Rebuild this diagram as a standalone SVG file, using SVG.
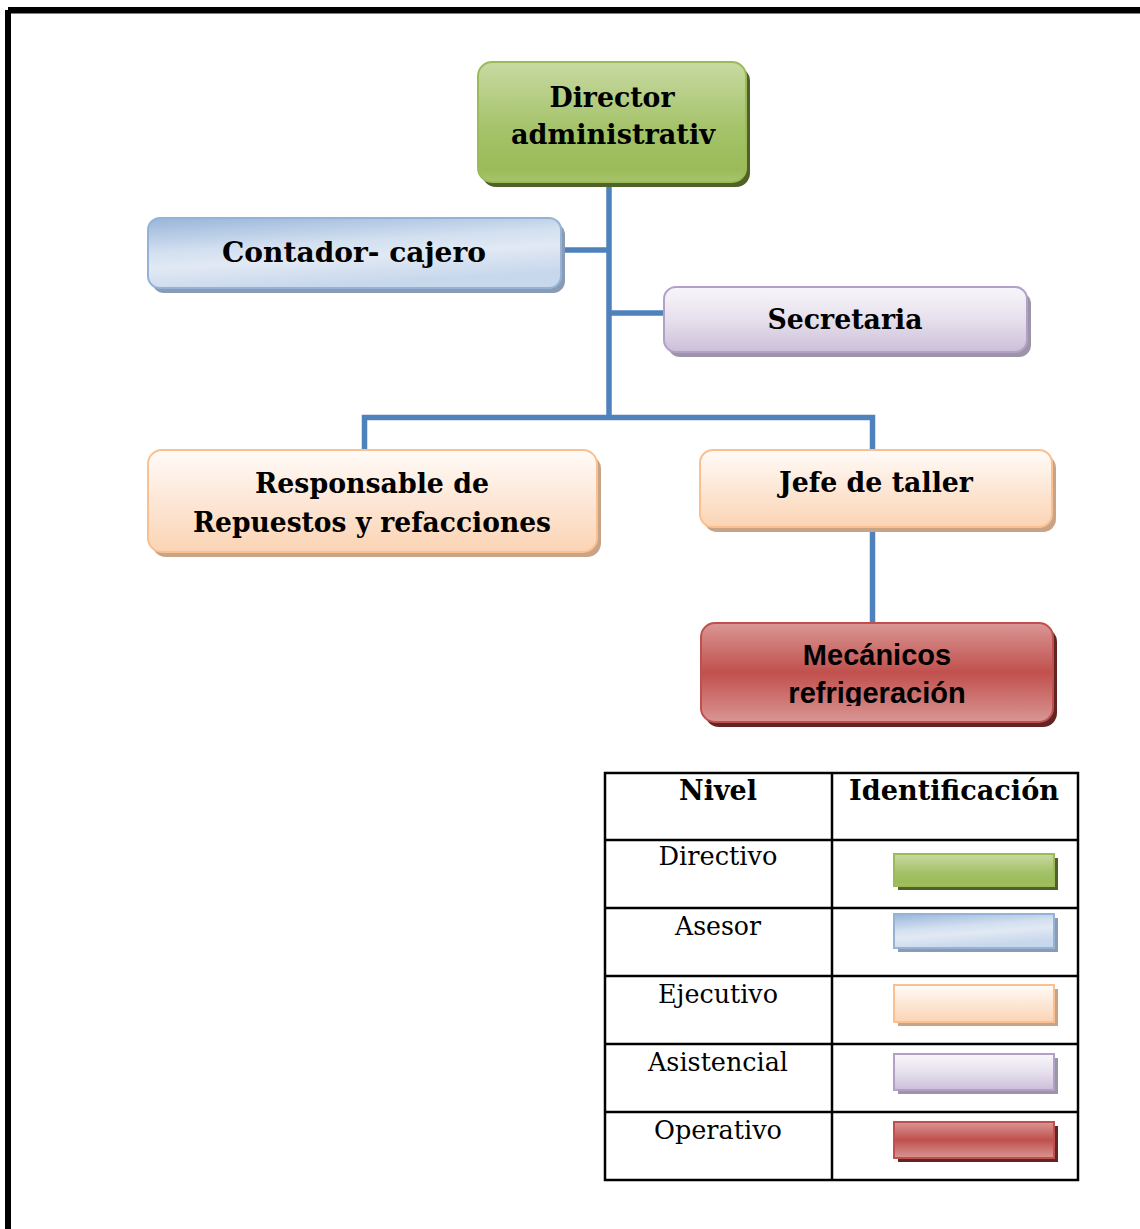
<svg xmlns="http://www.w3.org/2000/svg" width="1140" height="1229" viewBox="0 0 1140 1229">
  <defs>
    <linearGradient id="gGreen" x1="0" y1="0" x2="0" y2="1">
      <stop offset="0" stop-color="#c8daa2"/>
      <stop offset="0.55" stop-color="#a5c36a"/>
      <stop offset="0.9" stop-color="#9bbb59"/>
      <stop offset="1" stop-color="#a8c46e"/>
    </linearGradient>
    <linearGradient id="gBlue" x1="0" y1="0" x2="0.35" y2="1">
      <stop offset="0" stop-color="#98b5da"/>
      <stop offset="0.45" stop-color="#d3e0f0"/>
      <stop offset="0.65" stop-color="#e1e9f4"/>
      <stop offset="1" stop-color="#c7d7ec"/>
    </linearGradient>
    <linearGradient id="gPurple" x1="0" y1="0" x2="0" y2="1">
      <stop offset="0" stop-color="#f8f6fa"/>
      <stop offset="0.5" stop-color="#e6e0ec"/>
      <stop offset="1" stop-color="#cbbfd9"/>
    </linearGradient>
    <linearGradient id="gPeach" x1="0" y1="0" x2="0" y2="1">
      <stop offset="0" stop-color="#fffbf8"/>
      <stop offset="0.5" stop-color="#fde7d6"/>
      <stop offset="1" stop-color="#fbd4b4"/>
    </linearGradient>
    <linearGradient id="gRed" x1="0" y1="0" x2="0" y2="1">
      <stop offset="0" stop-color="#da9795"/>
      <stop offset="0.5" stop-color="#c0504d"/>
      <stop offset="1" stop-color="#d99694"/>
    </linearGradient>
    <clipPath id="clipMec">
      <rect x="701" y="623" width="352" height="83"/>
    </clipPath>
  </defs>
  <style>
    .t { font-family: "DejaVu Serif", "Liberation Serif", serif; font-weight: bold; font-size: 27px; fill: #000; text-anchor: middle; }
    .tr { font-family: "DejaVu Serif", "Liberation Serif", serif; font-size: 26px; fill: #000; text-anchor: middle; }
    .ts { font-family: "Liberation Sans", Arial, sans-serif; font-weight: bold; font-size: 29px; fill: #000; text-anchor: middle; }
    .conn { stroke: #4f81bd; stroke-width: 5.5; fill: none; stroke-linejoin: miter; }
    .grid { stroke: #000; stroke-width: 2.5; fill: none; }
    .green { fill: url(#gGreen); stroke: #9bbb59; stroke-width: 2; }
    .blue { fill: url(#gBlue); stroke: #95b3d7; stroke-width: 2; }
    .purple { fill: url(#gPurple); stroke: #b2a1c7; stroke-width: 2; }
    .peach { fill: url(#gPeach); stroke: #fac090; stroke-width: 2; }
    .red { fill: url(#gRed); stroke: #c0504d; stroke-width: 2; }
  </style>

  <!-- page frame -->
  <rect x="8" y="7" width="1132" height="6.5" fill="#000"/>
  <rect x="5" y="10" width="6" height="1219" fill="#000"/>

  <!-- connectors -->
  <g id="connectors">
    <path class="conn" d="M609,182 V417"/>
    <path class="conn" d="M561,250 H609"/>
    <path class="conn" d="M609,313 H664"/>
    <path class="conn" d="M364.5,450 V417.5 H872.5 V450"/>
    <path class="conn" d="M872.5,527 V623"/>
  </g>

  <!-- nodes -->
  <g id="director">
    <rect x="482" y="67" width="268" height="120" rx="14" fill="#4f6228"/>
    <rect class="green" x="478" y="62" width="268" height="120" rx="14"/>
    <text class="t" x="612" y="107" textLength="125" lengthAdjust="spacingAndGlyphs">Director</text>
    <text class="t" x="613" y="144" textLength="204" lengthAdjust="spacingAndGlyphs">administrativ</text>
  </g>

  <g id="contador">
    <rect x="152" y="223" width="413" height="70" rx="12" fill="#8a9bb3"/>
    <rect class="blue" x="148" y="218" width="413" height="70" rx="12"/>
    <text class="t" x="354" y="262" textLength="264" lengthAdjust="spacingAndGlyphs">Contador- cajero</text>
  </g>

  <g id="secretaria">
    <rect x="668" y="292" width="363" height="65" rx="12" fill="#9d94a8"/>
    <rect class="purple" x="664" y="287" width="363" height="65" rx="12"/>
    <text class="t" x="845" y="329" textLength="155" lengthAdjust="spacingAndGlyphs">Secretaria</text>
  </g>

  <g id="responsable">
    <rect x="152" y="455" width="449" height="102" rx="14" fill="#c9a386"/>
    <rect class="peach" x="148" y="450" width="449" height="102" rx="14"/>
    <text class="t" x="372" y="493" textLength="234" lengthAdjust="spacingAndGlyphs">Responsable de</text>
    <text class="t" x="372" y="532" textLength="358" lengthAdjust="spacingAndGlyphs">Repuestos y refacciones</text>
  </g>

  <g id="jefe-taller">
    <rect x="704" y="455" width="352" height="77" rx="13" fill="#c9a386"/>
    <rect class="peach" x="700" y="450" width="352" height="77" rx="13"/>
    <text class="t" x="876" y="492" textLength="194" lengthAdjust="spacingAndGlyphs">Jefe de taller</text>
  </g>

  <g id="mecanicos">
    <rect x="705" y="628" width="352" height="99" rx="14" fill="#632523"/>
    <rect class="red" x="701" y="623" width="352" height="99" rx="14"/>
    <g clip-path="url(#clipMec)">
      <text class="ts" x="877" y="665">Mecánicos</text>
      <text class="ts" x="877" y="703">refrigeración</text>
    </g>
  </g>

  <!-- legend table -->
  <g id="legend">
    <rect class="grid" x="605" y="773" width="473" height="407"/>
    <path class="grid" d="M832,773 V1180 M605,840 H1078 M605,908 H1078 M605,976 H1078 M605,1044 H1078 M605,1112 H1078"/>

    <text class="t" x="718" y="800" textLength="78" lengthAdjust="spacingAndGlyphs">Nivel</text>
    <text class="t" x="954" y="800" textLength="210" lengthAdjust="spacingAndGlyphs">Identificación</text>

    <text class="tr" x="718" y="865" textLength="119" lengthAdjust="spacingAndGlyphs">Directivo</text>
    <text class="tr" x="718" y="935" textLength="86" lengthAdjust="spacingAndGlyphs">Asesor</text>
    <text class="tr" x="718" y="1003" textLength="120" lengthAdjust="spacingAndGlyphs">Ejecutivo</text>
    <text class="tr" x="718" y="1071" textLength="140" lengthAdjust="spacingAndGlyphs">Asistencial</text>
    <text class="tr" x="718" y="1139" textLength="128" lengthAdjust="spacingAndGlyphs">Operativo</text>

    <rect x="898" y="858" width="160" height="32" fill="#4f6228"/>
    <rect class="green" x="894" y="854" width="160" height="32" stroke-width="1.5"/>

    <rect x="898" y="918" width="160" height="34" fill="#8a9bb3"/>
    <rect class="blue" x="894" y="914" width="160" height="34" stroke-width="1.5"/>

    <rect x="898" y="989" width="160" height="37" fill="#c9a386"/>
    <rect class="peach" x="894" y="985" width="160" height="37" stroke-width="1.5"/>

    <rect x="898" y="1058" width="160" height="36" fill="#9d94a8"/>
    <rect class="purple" x="894" y="1054" width="160" height="36" stroke-width="1.5"/>

    <rect x="898" y="1126" width="160" height="36" fill="#632523"/>
    <rect class="red" x="894" y="1122" width="160" height="36" stroke-width="1.5"/>
  </g>
</svg>
